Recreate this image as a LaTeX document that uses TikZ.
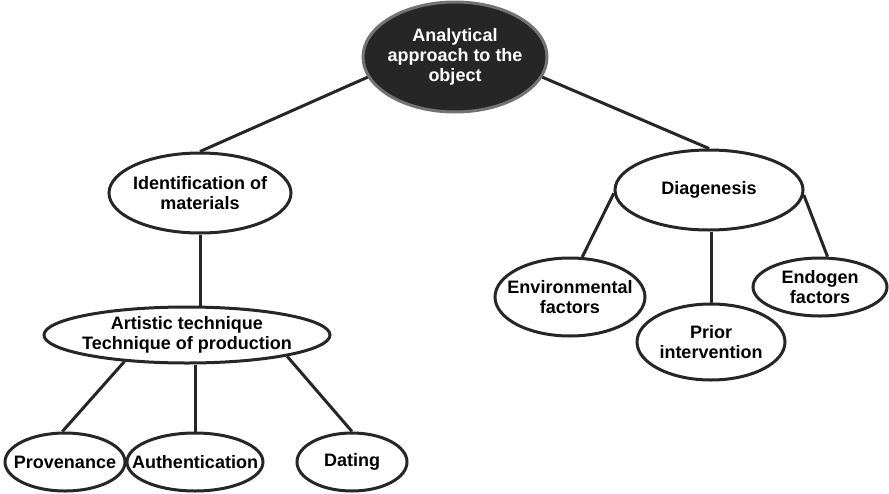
\documentclass[tikz,border=0pt]{standalone}
\usepackage{fontspec}
\setmainfont{Liberation Sans}
\usetikzlibrary{shapes.geometric}
\tikzset{
  blob/.style={ellipse, draw=black!85, line width=3pt, fill=white, inner sep=0pt},
  link/.style={line width=3pt, draw=black!85},
  txt/.style={font=\bfseries\fontsize{18}{20}\selectfont, align=center}
}
\begin{document}
\begin{tikzpicture}[x=1pt, y=-1pt]
    \useasboundingbox (0,0) rectangle (889,493);
    % Root
    \node[blob, fill=black!85, draw=black!55, minimum width=184pt, minimum height=110pt,
          label={[txt, white]center:{Analytical\\approach to the\\object}}] (root) at (455,57) {};
    % Left branch
    \node[blob, minimum width=182pt, minimum height=80pt,
          label={[txt]center:{Identification of\\materials}}] (ident) at (200,193) {};
    \node[blob, minimum width=286pt, minimum height=56pt,
          label={[txt]center:{Artistic technique\\Technique of production}}] (art) at (187,335) {};
    \node[blob, minimum width=120pt, minimum height=58pt, label={[txt]center:Provenance}] (prov) at (65,462) {};
    \node[blob, minimum width=136pt, minimum height=58pt, label={[txt]center:Authentication}] (auth) at (195,462) {};
    \node[blob, minimum width=110pt, minimum height=58pt, label={[txt]center:Dating}] (dat) at (352,462) {};
    % Right branch
    \node[blob, minimum width=188pt, minimum height=80pt, label={[txt]center:Diagenesis}] (diag) at (709,190) {};
    \node[blob, minimum width=150pt, minimum height=78pt,
          label={[txt]center:{Environmental\\factors}}] (env) at (570,297) {};
    \node[blob, minimum width=148pt, minimum height=76pt,
          label={[txt]center:{Prior\\intervention}}] (prior) at (711,342) {};
    \node[blob, minimum width=134pt, minimum height=58pt,
          label={[txt]center:{Endogen\\factors}}] (endo) at (820,287) {};
    % Links
    \draw[link] (root.193) -- (ident.north);
    \draw[link] (root.347) -- (diag.north);
    \draw[link] (ident.south) -- (ident.south |- art.north);
    \draw[link] (art.203) -- (prov.95);
    \draw[link] (auth.north |- art.south) -- (auth.north);
    \draw[link] (art.348) -- (dat.north);
    \draw[link] (diag.182) -- (env.73);
    \draw[link] (prior.north |- diag.south) -- (prior.north);
    \draw[link] (diag.357) -- (endo.76);
\end{tikzpicture}
\end{document}
